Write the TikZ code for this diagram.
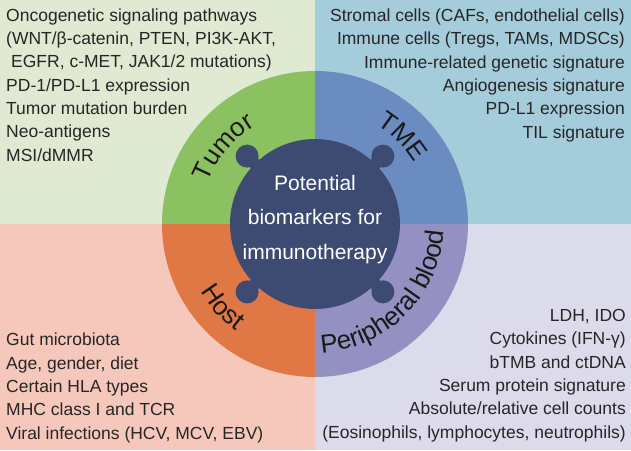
\documentclass[tikz,border=0pt]{standalone}
\usepackage{fontspec}
\setmainfont{Liberation Sans}
\usetikzlibrary{positioning, decorations.text}
\definecolor{bgtumor}{HTML}{E0E9D2}
\definecolor{bgtme}{HTML}{A5CCDA}
\definecolor{bghost}{HTML}{F6C8BC}
\definecolor{bgblood}{HTML}{DCDBEB}
\definecolor{ringtumor}{HTML}{8CC162}
\definecolor{ringtme}{HTML}{6A8CC1}
\definecolor{ringhost}{HTML}{E07845}
\definecolor{ringblood}{HTML}{9490C2}
\definecolor{navy}{HTML}{3D4A72}
\newcommand{\ringfont}{\fontsize{26}{26}\selectfont}
\tikzset{%
	hub/.style={circle, fill=navy, minimum size=170pt, inner sep=0pt},
	knob/.style={circle, fill=navy, minimum size=23pt, inner sep=0pt},
	neck/.style={draw=navy, line width=12pt},
	hubtext/.style={text=white, align=center, inner sep=0pt,%
		font=\fontsize{21}{34.5}\selectfont},
	ringlabel/.style={decorate, decoration={text along path, text align=center,%
		text color=black!90, text={|\ringfont|#1}}},
	itemlist/.style={inner sep=0pt, text=black!85, font=\fontsize{17.5}{23.3}\selectfont}
}
\begin{document}
\begin{tikzpicture}[x=1pt, y=1pt]
		\useasboundingbox (-315,-226) rectangle (316,224);
		% panels
		\fill[bgtumor] (-315,0) rectangle (0,224);
		\fill[bgtme] (0,0) rectangle (316,224);
		\fill[bghost] (-315,-226) rectangle (0,0);
		\fill[bgblood] (0,-226) rectangle (316,0);
		% ring
		\fill[ringtumor] (0,0) -- (90:153) arc[start angle=90, end angle=180, radius=153] -- cycle;
		\fill[ringtme] (0,0) -- (0:153) arc[start angle=0, end angle=90, radius=153] -- cycle;
		\fill[ringhost] (0,0) -- (180:153) arc[start angle=180, end angle=270, radius=153] -- cycle;
		\fill[ringblood] (0,0) -- (270:153) arc[start angle=270, end angle=360, radius=153] -- cycle;

		\node[hub] (hub) at (0,0) {};
		\node[knob] (knob-tl) at (135:96) {};
		\node[knob] (knob-tr) at (45:96) {};
		\node[knob] (knob-bl) at (225:96) {};
		\node[knob] (knob-br) at (315:96) {};
		\draw[neck] (hub.center) -- (knob-tl.center);
		\draw[neck] (hub.center) -- (knob-tr.center);
		\draw[neck] (hub.center) -- (knob-bl.center);
		\draw[neck] (hub.center) -- (knob-br.center);
		\node[hubtext, anchor=base] (hub-text) at (0,-35) {Potential\\biomarkers for\\immunotherapy};

		% ring labels, set along arcs
		\path[ringlabel=Tumor] (170:115) arc[start angle=170, end angle=110, radius=115];
		\path[ringlabel=TME] (75:117) arc[start angle=75, end angle=15, radius=117];
		\path[ringlabel=Host] (192:133) arc[start angle=192, end angle=252, radius=133];
		\path[ringlabel=Peripheral blood] (265:129) arc[start angle=265, end angle=365, radius=129];

		\node[itemlist, align=left, anchor=base west] (tumor-list) at (-309,63)
			{Oncogenetic signaling pathways\\(WNT/β-catenin, PTEN, PI3K-AKT,\\\hspace{5pt}EGFR, c-MET, JAK1/2 mutations)\\PD-1/PD-L1 expression\\Tumor mutation burden\\Neo-antigens\\MSI/dMMR};
		\node[itemlist, align=right, anchor=base east] (tme-list) at (310,86)
			{Stromal cells (CAFs, endothelial cells)\\Immune cells (Tregs, TAMs, MDSCs)\\Immune-related genetic signature\\Angiogenesis signature\\PD-L1 expression\\TIL signature};
		\node[itemlist, align=left, anchor=base west] (host-list) at (-309,-215)
			{Gut microbiota\\Age, gender, diet\\Certain HLA types\\MHC class I and TCR\\Viral infections (HCV, MCV, EBV)};
		\node[itemlist, align=right, anchor=base east] (blood-list) at (311,-214)
			{LDH, IDO\\Cytokines (IFN-γ)\\bTMB and ctDNA\\Serum protein signature\\Absolute/relative cell counts\\(Eosinophils, lymphocytes, neutrophils)};
	\end{tikzpicture}
\end{document}
